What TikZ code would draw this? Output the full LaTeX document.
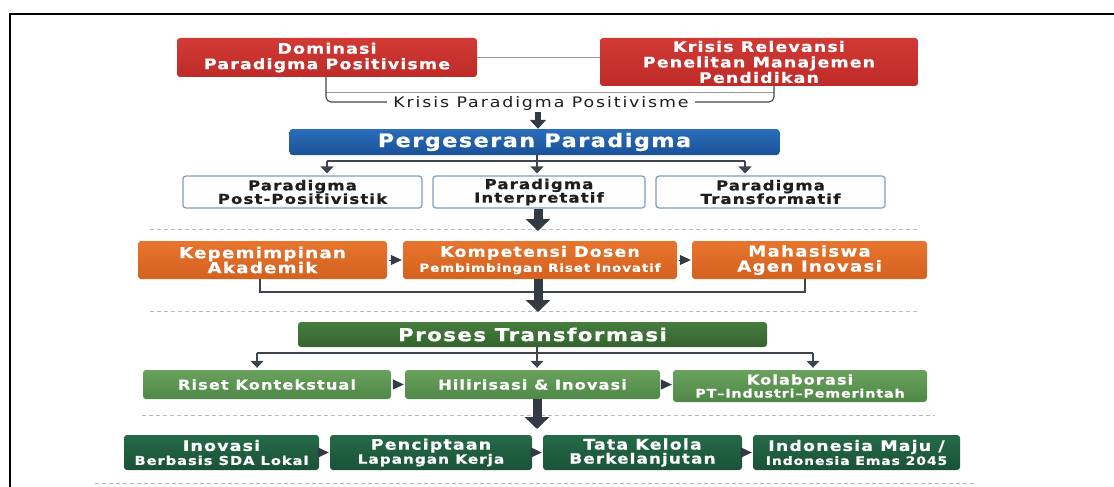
\documentclass[tikz,border=0pt]{standalone}
\usepackage{fontspec}
\setmainfont{DejaVu Sans}
\newfontfamily\lsf[LetterSpace=8,FakeStretch=1.2,FakeBold=0.7]{DejaVu Sans}
\newfontfamily\lsr[LetterSpace=13,FakeStretch=1.2]{DejaVu Sans}
\usetikzlibrary{arrows.meta}
\definecolor{redA}{HTML}{D13A35}
\definecolor{redB}{HTML}{BE2B28}
\definecolor{blueA}{HTML}{2A6DBA}
\definecolor{blueB}{HTML}{1B5298}
\definecolor{orA}{HTML}{E6752E}
\definecolor{orB}{HTML}{D4611F}
\definecolor{gtA}{HTML}{467D3E}
\definecolor{gtB}{HTML}{33632E}
\definecolor{grA}{HTML}{69A25C}
\definecolor{grB}{HTML}{4F8747}
\definecolor{dgA}{HTML}{256A48}
\definecolor{dgB}{HTML}{1A5237}
\definecolor{pbord}{HTML}{7F9CC2}
\definecolor{arr}{HTML}{333A44}
\definecolor{conn}{HTML}{3F454E}
\definecolor{dashc}{HTML}{B8B8B8}
\definecolor{ink}{HTML}{1E1E1E}
\newcommand\fsz[2]{\fontsize{#1}{#2}\selectfont}
\begin{document}
\begin{tikzpicture}[x=1pt,y=-1pt,
  box/.style={rounded corners=3pt, inner sep=0pt, align=center, text=white},
  redbox/.style={box, top color=redA, bottom color=redB, font=\lsf\bfseries\fsz{14.5}{15.5}},
  bluebox/.style={box, top color=blueA, bottom color=blueB, font=\lsf\bfseries\fsz{18.6}{20}},
  parbox/.style={box, draw=pbord, line width=1.2pt, fill=white, text=ink, font=\lsf\bfseries\fsz{13.8}{13.5}},
  orbox/.style={box, top color=orA, bottom color=orB, font=\lsf\bfseries\fsz{15.2}{15}},
  gtbox/.style={box, top color=gtA, bottom color=gtB, font=\lsf\bfseries\fsz{17.8}{19}},
  grbox/.style={box, top color=grA, bottom color=grB, font=\lsf\bfseries\fsz{13.5}{13}},
  dgbox/.style={box, top color=dgA, bottom color=dgB, font=\lsf\bfseries\fsz{14.5}{14}},
  cline/.style={draw=conn, line width=1.3pt},
  gline/.style={draw=gray!80, line width=1pt},
  downarr/.style={cline, -{Triangle[width=13pt,length=7pt]}, shorten >=2pt},
  tri/.style={draw=arr, line width=1pt, -{Triangle[width=10pt,length=11pt]}, shorten <=2pt, shorten >=1pt},
  arrowS/.style={draw=arr, line width=6pt, -{Triangle[width=16pt,length=9pt]}},
  arrowL/.style={draw=arr, line width=9pt, -{Triangle[width=24pt,length=12pt]}},
  dline/.style={draw=dashc, line width=1pt, dash pattern=on 4pt off 3pt}]
\useasboundingbox (0,0) rectangle (1114,487);
% frame
\draw[line width=2.5pt] (10,490) -- (10,14) -- (1116,14);
% dashed separators
\draw[dline] (150,229) -- (917,229);
\draw[dline] (150,311) -- (917,311);
\draw[dline] (142,415) -- (935,415);
\draw[dline] (95,483) -- (977,483);
% row 1
\node[redbox, minimum width=300pt, minimum height=39pt] (r1) at (327,57.5) {Dominasi\\Paradigma Positivisme};
\node[redbox, minimum width=318pt, minimum height=48pt] (r2) at (759,62) {Krisis Relevansi\\Penelitan Manajemen\\Pendidikan};
\draw[gline] (r1.east) -- (r1.east -| r2.west);
\coordinate (bl) at (326,102);
\coordinate (br) at (774,102);
\coordinate (tl) at (326,92);
\coordinate (tr) at (774,92);
\draw[gline] (tl) -- (tr);
\draw[cline, line width=1.1pt, rounded corners=5pt] (r1.south -| bl) -- (bl) -- (br) -- (r2.south -| br);
\node[fill=white, inner xsep=6pt, inner ysep=1pt, text=ink, font=\lsr\fsz{14.5}{16}] (kp) at (541,103) {Krisis Paradigma Positivisme};
% blue
\node[bluebox, minimum width=490pt, minimum height=26pt] (blue) at (534.5,142) {Pergeseran Paradigma};
\coordinate (a1) at (538,112);
\draw[arrowS] (a1) -- (a1 |- blue.north);
% paradigm row
\node[parbox, minimum width=239pt, minimum height=32pt] (p1) at (302.5,192) {Paradigma\\Post-Positivistik};
\node[parbox, minimum width=212pt, minimum height=32pt] (p2) at (539,192) {Paradigma\\Interpretatif};
\node[parbox, minimum width=229pt, minimum height=32pt] (p3) at (770.5,192) {Paradigma\\Transformatif};
\coordinate (h1) at (327,161);
\coordinate (h2) at (537,161);
\coordinate (h3) at (745,161);
\draw[cline] (h1) -- (h3);
\draw[downarr] (h1) -- (h1 |- p1.north);
\draw[downarr] (h2 |- blue.south) -- (h2 |- p2.north);
\draw[downarr] (h3) -- (h3 |- p3.north);
\coordinate (a2) at (538,231);
\draw[arrowL] (p2.south -| a2) -- (a2);
% orange row
\node[orbox, minimum width=249pt, minimum height=38pt] (o1) at (262.5,260) {Kepemimpinan\\Akademik};
\node[orbox, minimum width=274pt, minimum height=38pt] (o2) at (540,260) {\fsz{14.5}{15}Kompetensi Dosen\\{\fsz{11.2}{13}Pembimbingan Riset Inovatif}};
\node[orbox, minimum width=235pt, minimum height=38pt] (o3) at (809.5,260) {Mahasiswa\\Agen Inovasi};
\draw[tri] (o1) -- (o2);
\draw[tri] (o2) -- (o3);
\coordinate (ob1) at (260,292);
\coordinate (ob2) at (805,292);
\draw[cline] (o1.south -| ob1) -- (ob1) -- (ob2) -- (o3.south -| ob2);
\coordinate (a3) at (538,312);
\draw[arrowL] (o2.south -| a3) -- (a3);
% green title
\node[gtbox, minimum width=469pt, minimum height=25pt] (gt) at (532.5,334.5) {Proses Transformasi};
% green row
\node[grbox, minimum width=248pt, minimum height=29pt] (g1) at (267,384.5) {Riset Kontekstual};
\node[grbox, minimum width=255pt, minimum height=29pt] (g2) at (532.5,384.5) {Hilirisasi \& Inovasi};
\node[grbox, minimum width=254pt, minimum height=32pt] (g3) at (800,386) {Kolaborasi\\{\fsz{11.8}{13}PT–Industri–Pemerintah}};
\coordinate (k1) at (257,353);
\coordinate (k2) at (537,353);
\coordinate (k3) at (813,353);
\draw[cline] (k1) -- (k3);
\draw[downarr] (k1) -- (k1 |- g1.north);
\draw[downarr] (k2 |- gt.south) -- (k2 |- g2.north);
\draw[downarr] (k3) -- (k3 |- g3.north);
\draw[tri] (g1) -- (g2);
\draw[tri] (g2.east) -- (g2.east -| g3.west);
\coordinate (a4) at (537,429);
\draw[arrowL] (g2.south -| a4) -- (a4);
% bottom row
\node[dgbox, minimum width=195pt, minimum height=35pt] (b1) at (221.5,452.5) {Inovasi\\{\fsz{12.2}{14}Berbasis SDA Lokal}};
\node[dgbox, minimum width=202pt, minimum height=35pt] (b2) at (431,452.5) {Penciptaan\\{\fsz{12.7}{14}Lapangan Kerja}};
\node[dgbox, minimum width=199pt, minimum height=35pt] (b3) at (642.5,452.5) {Tata Kelola\\{\fsz{14}{14}Berkelanjutan}};
\node[dgbox, minimum width=207pt, minimum height=35pt] (b4) at (856.5,452.5) {Indonesia Maju /\\{\fsz{11.6}{14}Indonesia Emas 2045}};
\draw[tri] (b1) -- (b2);
\draw[tri] (b2) -- (b3);
\draw[tri] (b3) -- (b4);
\end{tikzpicture}
\end{document}
